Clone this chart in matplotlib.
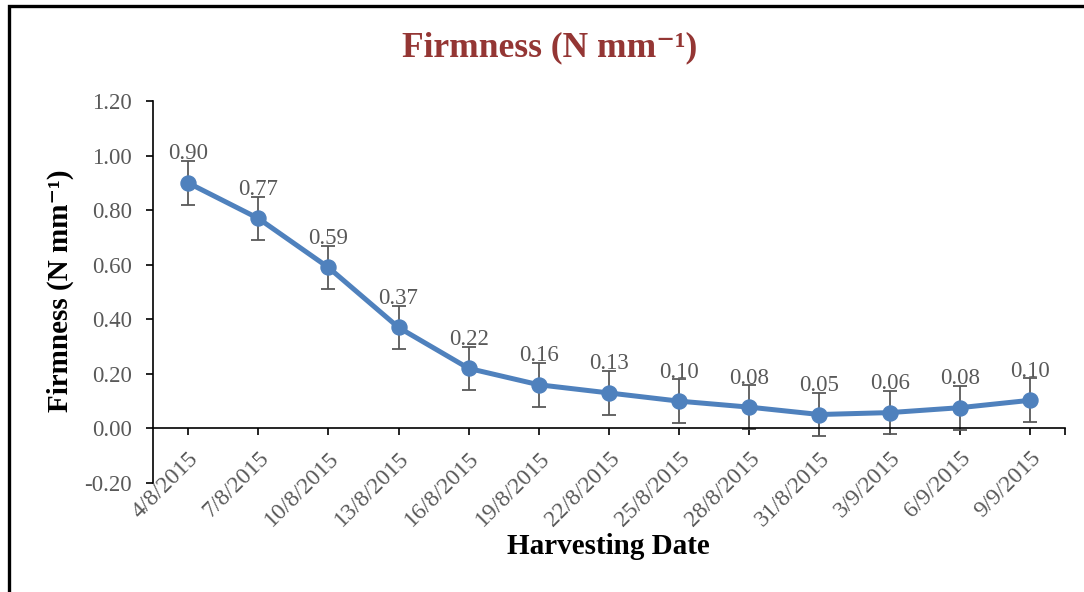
import matplotlib
matplotlib.use("Agg")
import matplotlib.pyplot as plt
from matplotlib.patches import Rectangle

dates = ["4/8/2015", "7/8/2015", "10/8/2015", "13/8/2015", "16/8/2015", "19/8/2015",
         "22/8/2015", "25/8/2015", "28/8/2015", "31/8/2015", "3/9/2015", "6/9/2015", "9/9/2015"]
firmness = [0.90, 0.77, 0.59, 0.37, 0.22, 0.16, 0.13, 0.10, 0.078, 0.051, 0.058, 0.076, 0.103]
errors = [0.08, 0.08, 0.08, 0.08, 0.08, 0.08, 0.08, 0.08, 0.08, 0.08, 0.08, 0.08, 0.08]
yticks = [-0.20, 0.00, 0.20, 0.40, 0.60, 0.80, 1.00, 1.20]
ytick_labels = ["-0.20", "0.00", "0.20", "0.40", "0.60", "0.80", "1.00", "1.20"]

plt.rcParams['font.family'] = ['Liberation Serif', 'DejaVu Serif']

W, H = 1084, 592
fig = plt.figure(figsize=(W / 100, H / 100), dpi=100)
ax = fig.add_axes([153 / W, (H - 483) / H, 912 / W, 382 / H])

x = list(range(len(dates)))
blue = "#4F81BD"
gray = "#595959"

ax.errorbar(x, firmness, yerr=errors, fmt='none', ecolor=gray, elinewidth=1.3,
            capsize=5, capthick=1.3, zorder=2)
ax.plot(x, firmness, color=blue, linewidth=3.6, marker='o', markersize=10.8,
        markerfacecolor=blue, markeredgecolor=blue, zorder=3)

for xi, v in zip(x, firmness):
    ax.annotate(f"{v:.2f}", (xi, v), xytext=(0, 17), textcoords='offset points',
                ha='center', va='baseline', fontsize=16.5, color=gray, zorder=4)

ax.set_xlim(-0.5, len(dates) - 0.5)
ax.set_ylim(-0.2, 1.2)
ax.set_yticks(yticks)
ax.set_yticklabels(ytick_labels)
ax.set_xticks(x)
ax.set_xticklabels(dates)
ax.set_xticks([len(dates) - 0.5], minor=True)

for s in ['top', 'right']:
    ax.spines[s].set_visible(False)
ax.spines['bottom'].set_position(('data', 0))
for s in ['left', 'bottom']:
    ax.spines[s].set_linewidth(1.2)
    ax.spines[s].set_color('black')

ax.tick_params(axis='y', direction='out', length=5, width=1.2, pad=10,
               labelsize=16.5, labelcolor=gray, color='black')
ax.tick_params(axis='x', which='both', direction='out', length=5, width=1.2, pad=9,
               labelsize=17, labelcolor=gray, color='black', labelrotation=45)
for lab in ax.get_xticklabels():
    lab.set_rotation(45)
    lab.set_ha('right')
    lab.set_va('top')
    lab.set_rotation_mode('anchor')

sup = "\u207b\u00b9"
fig.text(550 / W, 1 - 48 / H, "Firmness (N mm" + sup + ")", ha='center', va='center',
         fontsize=25.5, fontweight='bold', color="#943634")
fig.text(60 / W, 1 - 291 / H, "Firmness (N mm" + sup + ")", ha='center', va='center',
         rotation=90, fontsize=21, fontweight='bold', color='black')
fig.text(608 / W, 1 - 546 / H, "Harvesting Date", ha='center', va='center',
         fontsize=21, fontweight='bold', color='black')

fig.patches.append(Rectangle((8.5 / W, -0.2), 1.5, 1.2 - 6 / H, transform=fig.transFigure,
                             fill=False, edgecolor='black', linewidth=2.4))

fig.savefig("out.png", dpi=100)
